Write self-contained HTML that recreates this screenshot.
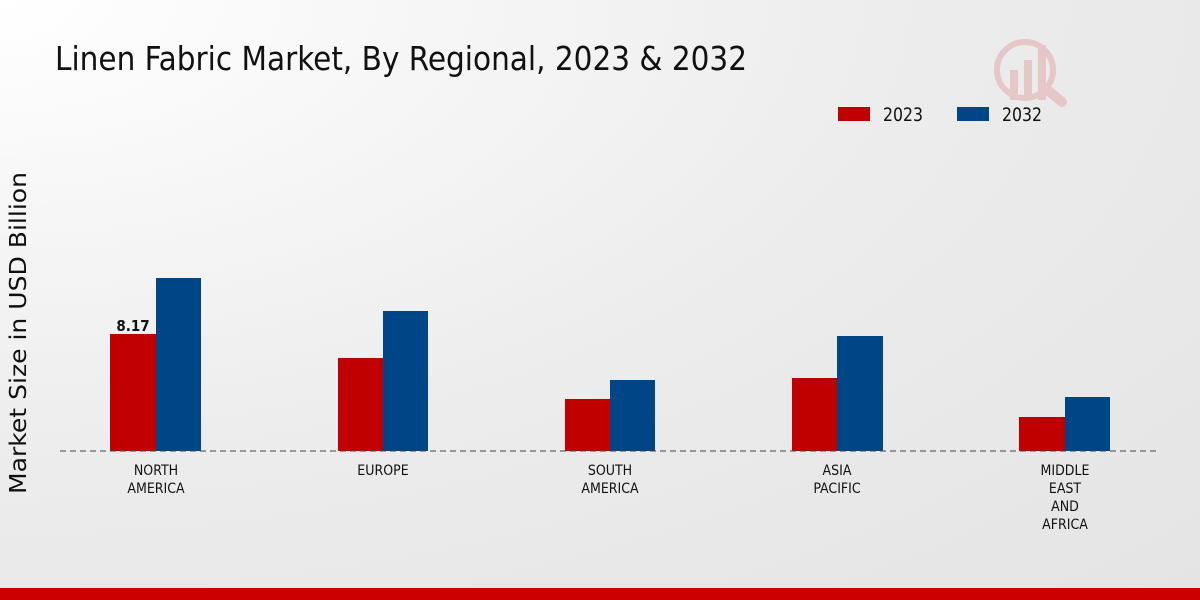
<!DOCTYPE html>
<html><head><meta charset="utf-8"><style>
html,body{margin:0;padding:0;width:1200px;height:600px;overflow:hidden}
body{background:radial-gradient(ellipse at 0% 0%,#ffffff 0%,#ececec 55%,#e4e4e4 100%);font-family:"DejaVu Sans Condensed","Liberation Sans Narrow","DejaVu Sans",sans-serif}
</style></head><body>
<svg width="1200" height="600" xmlns="http://www.w3.org/2000/svg" style="position:absolute;left:0;top:0">
<text x="55" y="70" font-size="33" fill="#111" textLength="692" lengthAdjust="spacingAndGlyphs">Linen Fabric Market, By Regional, 2023 &amp; 2032</text>
<g opacity="0.15" fill="#c00">
<circle cx="1025" cy="70" r="28" fill="none" stroke="#c00" stroke-width="6"/>
<rect x="1010" y="70" width="8" height="30"/><rect x="1024" y="60" width="8" height="40"/><rect x="1038" y="45" width="8" height="55"/>
<line x1="1045" y1="88" x2="1062" y2="102" stroke="#c00" stroke-width="10" stroke-linecap="round"/>
</g>
<rect x="838" y="107" width="32" height="14" fill="#c00000"/>
<text x="883" y="121" font-size="19" fill="#111" textLength="40" lengthAdjust="spacingAndGlyphs">2023</text>
<rect x="957" y="107" width="32" height="14" fill="#004585"/>
<text x="1002" y="121" font-size="19" fill="#111" textLength="40" lengthAdjust="spacingAndGlyphs">2032</text>
<text transform="translate(26,333) rotate(-90)" font-size="23" fill="#111" text-anchor="middle" font-family="DejaVu Sans,sans-serif" textLength="322" lengthAdjust="spacingAndGlyphs">Market Size in USD Billion</text>
<g fill="#c00000">
<rect x="110" y="334" width="46" height="117"/><rect x="338" y="358" width="45" height="93"/><rect x="565" y="399" width="45" height="52"/><rect x="792" y="378" width="45" height="73"/><rect x="1019" y="417" width="46" height="34"/>
</g>
<g fill="#004585">
<rect x="156" y="278" width="45" height="173"/><rect x="383" y="311" width="45" height="140"/><rect x="610" y="380" width="45" height="71"/><rect x="837" y="336" width="46" height="115"/><rect x="1065" y="397" width="45" height="54"/>
</g>
<line x1="60" y1="451" x2="1160" y2="451" stroke="#444" stroke-width="1" stroke-dasharray="6,4"/>
<text x="133" y="331" font-size="15" font-weight="bold" fill="#111" text-anchor="middle">8.17</text>
<g font-size="14" fill="#111" text-anchor="middle">
<text x="156" y="475">NORTH</text><text x="156" y="493">AMERICA</text>
<text x="383" y="475">EUROPE</text>
<text x="610" y="475">SOUTH</text><text x="610" y="493">AMERICA</text>
<text x="837" y="475">ASIA</text><text x="837" y="493">PACIFIC</text>
<text x="1065" y="475">MIDDLE</text><text x="1065" y="493">EAST</text><text x="1065" y="511">AND</text><text x="1065" y="529">AFRICA</text>
</g>
<rect x="0" y="588" width="1200" height="12" fill="#cc0000"/>
</svg>
</body></html>
